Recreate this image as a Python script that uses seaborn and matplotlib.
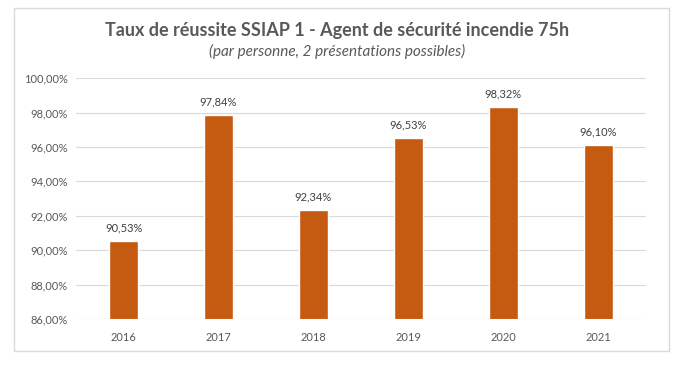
import matplotlib
matplotlib.use("Agg")
import matplotlib.pyplot as plt
import matplotlib.patches as mpatches
import seaborn as sns
import pandas as pd
from matplotlib.ticker import FuncFormatter

years = ["2016", "2017", "2018", "2019", "2020", "2021"]
rates = [90.53, 97.84, 92.34, 96.53, 98.32, 96.10]

sns.set_theme(style="white")
plt.rcParams["font.family"] = ["Lato", "DejaVu Sans"]

df = pd.DataFrame({"year": years, "rate": rates})

fig = plt.figure(figsize=(6.74, 3.65), dpi=100)
ax = fig.add_axes([0.113, 0.126, 0.845, 0.660])
sns.barplot(data=df, x="year", y="rate", color="#C55A11", width=0.31, saturation=1, ax=ax)

ax.set_ylim(86, 100)
ax.set_yticks(range(86, 101, 2))
ax.yaxis.set_major_formatter(FuncFormatter(lambda v, p: f"{v:.2f}%".replace(".", ",")))
ax.grid(axis="y", color="#D9D9D9", linewidth=0.8)
ax.set_axisbelow(True)
for s in ax.spines.values():
    s.set_visible(False)
ax.axhline(86, color="#D9D9D9", linewidth=0.8)
ax.tick_params(axis="y", length=0, labelsize=8, labelcolor="#595959", pad=6)
ax.tick_params(axis="x", length=0, labelsize=8, labelcolor="#595959", pad=9)
ax.set_xlabel("")
ax.set_ylabel("")

for i, v in enumerate(rates):
    ax.text(i, v + 0.45, f"{v:.2f}%".replace(".", ","), ha="center", va="bottom",
            fontsize=8, color="#404040")

fig.text(0.5, 0.917, "Taux de réussite SSIAP 1 - Agent de sécurité incendie 75h",
         ha="center", va="center", fontsize=13, fontweight="bold", color="#595959")
fig.text(0.5, 0.858, "(par personne, 2 présentations possibles)",
         ha="center", va="center", fontsize=11, style="italic", color="#595959")

fig.patches.append(mpatches.Rectangle((14 / 674, 1 - 351 / 365), 655 / 674, 343 / 365,
                                      transform=fig.transFigure, fill=False,
                                      edgecolor="#D9D9D9", linewidth=1))

fig.savefig("out.png", dpi=100)
